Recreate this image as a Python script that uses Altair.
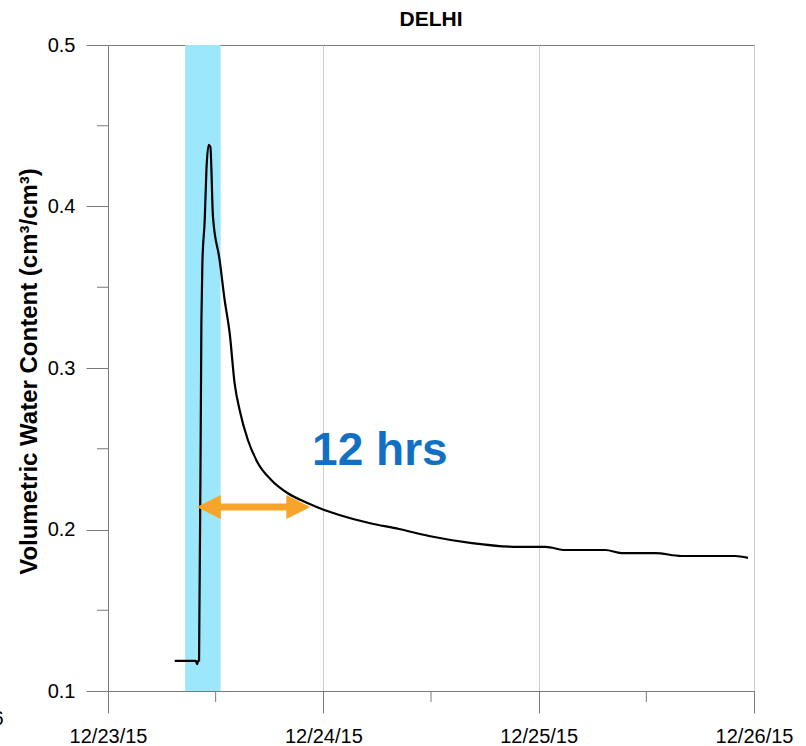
import altair as alt
import pandas as pd

# Volumetric water content, hours after 12/23/15 00:00
hours = [7.44, 9.78, 9.93, 10.08, 10.15, 10.41, 10.52, 10.78, 10.97, 11.22, 11.41,
         11.70, 12.44, 13.0, 13.56, 14.11, 14.67, 15.59, 16.70, 18.19, 20.0, 22.22,
         24.11, 25.78, 29.11, 32.44, 35.78, 40.56, 45.78, 48.78, 51.0, 55.44, 57.22,
         61.0, 63.89, 69.89, 71.33]
vwc = [0.1186, 0.1186, 0.1167, 0.1190, 0.1190, 0.3297, 0.3649, 0.3916, 0.4226, 0.4381,
       0.4369, 0.3935, 0.3669, 0.3421, 0.3217, 0.2907, 0.2740, 0.2554, 0.2412, 0.2307,
       0.2226, 0.2164, 0.2121, 0.2090, 0.2040, 0.2003, 0.1960, 0.1916, 0.1892, 0.1892,
       0.1873, 0.1873, 0.1854, 0.1854, 0.1836, 0.1836, 0.1824]

# Rain event (shaded) and the drainage-time annotation
rain_start, rain_end = 8.6, 12.55
arrow_start, arrow_end, arrow_level = 9.9, 22.55, 0.2139
note_text, note_hour, note_level = "12 hrs", 30.3, 0.240

site_name = "DELHI"
date_labels = ["12/23/15", "12/24/15", "12/25/15", "12/26/15"]
x_major = [0, 24, 48, 72]
x_minor = [12, 36, 60]
y_major = [0.1, 0.2, 0.3, 0.4, 0.5]
y_minor = [0.15, 0.25, 0.35, 0.45]

FONT = "Liberation Sans"
AXIS_GRAY = "#7a7a7a"
ORANGE = "#f6a52a"
W, H = 646, 646

curve = pd.DataFrame({"hour": hours, "vwc": vwc})
rain = pd.DataFrame({"start": [rain_start], "end": [rain_end]})
arrow = pd.DataFrame({"start": [arrow_start], "end": [arrow_end], "level": [arrow_level]})
note = pd.DataFrame({"hour": [note_hour], "level": [note_level], "text": [note_text]})
xminor_df = pd.DataFrame({"hour": x_minor})
yminor_df = pd.DataFrame({"vwc": y_minor})

x_scale = alt.Scale(domain=[0, 72], nice=False, zero=False)
y_scale = alt.Scale(domain=[0.1, 0.5], nice=False, zero=False)

# tick label text for each day boundary
x_label_expr = " : ".join(
    f"datum.value == {v} ? '{t}'" for v, t in zip(x_major, date_labels)
) + " : ''"

x_axis = alt.Axis(
    values=x_major,
    labelExpr=x_label_expr,
    title=None,
    labelFont=FONT, labelFontSize=20, labelColor="black",
    labelFlush=False, labelOverlap=False, labelPadding=13,
    domainColor=AXIS_GRAY, tickColor=AXIS_GRAY, tickSize=22,
    grid=True, gridColor="#cccccc",
)
y_axis = alt.Axis(
    values=y_major,
    format=".1f",
    title="Volumetric Water Content (cm³/cm³)",
    titleFont=FONT, titleFontSize=24, titleFontWeight="bold", titleColor="black",
    titleAngle=-90, titleX=-79, titleY=326, titleAlign="center", titleBaseline="middle",
    labelFont=FONT, labelFontSize=20, labelColor="black",
    labelFlush=False, labelOverlap=False, labelPadding=11,
    domainColor=AXIS_GRAY, tickColor=AXIS_GRAY, tickSize=22,
    grid=False,
)


def xq(field):
    return alt.X(field, type="quantitative", scale=x_scale, axis=x_axis)


def yq(field):
    return alt.Y(field, type="quantitative", scale=y_scale, axis=y_axis)


band = alt.Chart(rain).mark_rect(color="#9de7fc").encode(
    x=xq("start"),
    x2="end:Q",
)

line = alt.Chart(curve).mark_line(color="black", strokeWidth=2.2, interpolate="monotone").encode(
    x=xq("hour"),
    y=yq("vwc"),
)

# half-length minor ticks between the labelled ones
x_minor_ticks = alt.Chart(xminor_df).mark_rule(color=AXIS_GRAY).encode(
    x=xq("hour"),
    y=alt.value(H), y2=alt.value(H + 11),
)
y_minor_ticks = alt.Chart(yminor_df).mark_rule(color=AXIS_GRAY).encode(
    y=yq("vwc"),
    x=alt.value(-11), x2=alt.value(0),
)

shaft = alt.Chart(arrow).mark_rule(color=ORANGE, strokeWidth=7, strokeCap="butt",
                                   xOffset=14, x2Offset=-14).encode(
    x=xq("start"),
    x2="end:Q",
    y=yq("level"),
)
head_right = alt.Chart(arrow).mark_point(
    shape="M0,0L-2,-1L-2,1Z", size=576, filled=True, color=ORANGE, opacity=1
).encode(x=xq("end"), y=yq("level"))
head_left = alt.Chart(arrow).mark_point(
    shape="M0,0L2,-1L2,1Z", size=576, filled=True, color=ORANGE, opacity=1
).encode(x=xq("start"), y=yq("level"))

label = alt.Chart(note).mark_text(
    font=FONT, fontSize=46, fontWeight="bold", color="#1170c4",
    align="center", baseline="alphabetic",
).encode(x=xq("hour"), y=yq("level"), text="text:N")

# panel heading above the plot
heading = alt.Chart(pd.DataFrame({"t": [site_name]})).mark_text(
    font=FONT, fontSize=21, fontWeight="bold", color="black",
    align="center", baseline="alphabetic",
).encode(x=alt.value(W / 2), y=alt.value(-19), text="t:N")

edge = alt.Chart(pd.DataFrame({"t": ["6"]})).mark_text(
    font=FONT, fontSize=20, color="black", align="right", baseline="middle"
).encode(x=alt.value(-104.5), y=alt.value(674), text="t:N")

chart = (
    alt.layer(band, line, x_minor_ticks, y_minor_ticks, shaft, head_left, head_right,
              label, heading, edge)
    .properties(
        width=W, height=H,
        autosize=alt.AutoSizeParams(type="none"),
        padding={"left": 108, "top": 45, "right": 52, "bottom": 55},
        background="white",
    )
    .configure_view(stroke=AXIS_GRAY, strokeWidth=1)
    .configure_axis(zindex=1)
)

chart.save("out.html", embed_options={"renderer": "svg", "actions": False})
